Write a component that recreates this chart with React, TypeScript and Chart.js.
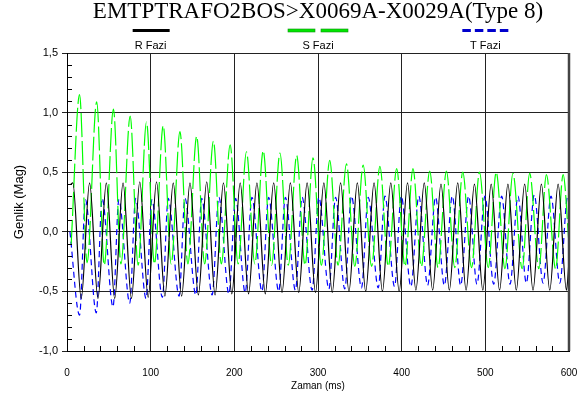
import { useEffect, useRef } from "react";
import { Chart, registerables } from "chart.js";
Chart.register(...registerables);

const TITLE = "EMTPTRAFO2BOS>X0069A-X0029A(Type 8)";
const SERIES_NAMES = ["R Fazi", "S Fazi", "T Fazi"];
const X_TITLE = "Zaman (ms)";
const Y_TITLE = "Genlik (Mag)";
const X_TICKS = [0, 100, 200, 300, 400, 500, 600];
const Y_TICKS = [-1.0, -0.5, 0.0, 0.5, 1.0, 1.5];

// R phase: start, then (peak, trough) per cycle, end
const rTimes = [4.5, 7, 17, 27, 37, 47, 57, 67, 77, 87, 97, 107, 117, 127, 137, 147, 157, 167, 177, 187, 197, 207, 217, 227, 237, 247, 257, 267, 277, 287, 297, 307, 317, 327, 337, 347, 357, 367, 377, 387, 397, 407, 417, 427, 437, 447, 457, 467, 477, 487, 497, 507, 517, 527, 537, 547, 557, 567, 577, 587, 597, 600];
const rValues = [0.40,
  0.41, -0.56, 0.41, -0.56, 0.41, -0.56, 0.41, -0.56, 0.42, -0.55,
  0.42, -0.54, 0.41, -0.54, 0.41, -0.53, 0.42, -0.53, 0.41, -0.52,
  0.41, -0.52, 0.41, -0.52, 0.41, -0.51, 0.41, -0.51, 0.41, -0.51,
  0.41, -0.51, 0.41, -0.50, 0.41, -0.50, 0.41, -0.50, 0.41, -0.50,
  0.41, -0.49, 0.41, -0.49, 0.40, -0.49, 0.41, -0.49, 0.40, -0.49,
  0.40, -0.49, 0.40, -0.49, 0.40, -0.49, 0.40, -0.49, 0.40, -0.49,
  -0.25];

// S phase: start, then (peak, trough) per cycle, end
const sTimes = [5, 15, 24, 35.5, 44.5, 55.5, 64.5, 75.5, 85, 95, 104.5, 115, 124.5, 135, 144.5, 155, 164.5, 175, 184.5, 195, 204.5, 214.5, 224.5, 234.5, 244.5, 254.5, 264.5, 274.5, 284.5, 294, 304, 314, 324, 334, 344, 354, 364, 374, 384, 394, 404, 413.5, 423.5, 433.5, 443.5, 453.5, 463.5, 473, 483.5, 493, 503.5, 513, 523.5, 533, 544, 553, 564, 573, 584, 593, 600];
const sValues = [-0.10,
  1.15, -0.26, 1.09, -0.28, 1.03, -0.27, 0.97, -0.28, 0.92, -0.27,
  0.89, -0.27, 0.84, -0.27, 0.80, -0.27, 0.76, -0.27, 0.73, -0.27,
  0.67, -0.27, 0.68, -0.28, 0.66, -0.28, 0.64, -0.28, 0.62, -0.28,
  0.60, -0.28, 0.57, -0.29, 0.56, -0.29, 0.55, -0.29, 0.53, -0.29,
  0.53, -0.29, 0.51, -0.30, 0.51, -0.30, 0.50, -0.30, 0.50, -0.30,
  0.50, -0.31, 0.49, -0.31, 0.49, -0.31, 0.48, -0.31, 0.48,
  -0.10];

// T phase: start, then (trough, peak) per cycle, end
const tTimes = [3.5, 15, 22, 35, 42, 55, 62, 75, 82, 94.5, 101.5, 114, 121, 134, 141, 154, 161, 173.5, 181.5, 193.5, 201.5, 213, 221, 233, 241, 253, 261, 273, 281, 293, 301, 313, 321, 332, 340, 352, 360, 372, 380, 391.5, 399.5, 411, 420.5, 431, 440.5, 451, 460.5, 470.5, 480, 490, 499.5, 510, 519.5, 529.5, 539, 549, 558.5, 569, 578.5, 589, 598.5, 600];
const tValues = [0.0,
  -0.70, 0.27, -0.68, 0.28, -0.63, 0.27, -0.60, 0.28, -0.56, 0.27,
  -0.55, 0.28, -0.54, 0.28, -0.53, 0.28, -0.53, 0.29, -0.52, 0.28,
  -0.51, 0.29, -0.50, 0.29, -0.50, 0.29, -0.49, 0.29, -0.49, 0.29,
  -0.48, 0.29, -0.48, 0.30, -0.47, 0.29, -0.47, 0.30, -0.46, 0.30,
  -0.46, 0.30, -0.45, 0.29, -0.45, 0.30, -0.45, 0.30, -0.44, 0.30,
  -0.44, 0.30, -0.44, 0.30, -0.43, 0.31, -0.43, 0.30, -0.43, 0.30,
  0.29];

const SANS = '"Liberation Sans", Arial, sans-serif';

function toPoints(ts: number[], vs: number[]) {
  return ts.map((t, i) => ({ x: t, y: vs[i] }));
}

export default function App() {
  const ref = useRef<HTMLCanvasElement>(null);
  useEffect(() => {
    document.body.style.margin = "0";
    const canvas = ref.current;
    if (!canvas) return;

    const decor = {
      id: "decor",
      afterDraw(chart: any) {
        const ctx = chart.ctx as CanvasRenderingContext2D;
        const { left, right, top, bottom } = chart.chartArea;
        const xs = chart.scales.x;
        const ys = chart.scales.y;
        ctx.save();
        ctx.strokeStyle = "#000";
        ctx.lineWidth = 1;
        // minor ticks (inside)
        ctx.beginPath();
        for (let v = 20; v < 600; v += 20) {
          if (v % 100 === 0) continue;
          const px = Math.round(xs.getPixelForValue(v)) + 0.5;
          ctx.moveTo(px, bottom);
          ctx.lineTo(px, bottom - 5);
        }
        for (let i = -9; i < 15; i++) {
          if (i % 5 === 0) continue;
          const py = Math.round(ys.getPixelForValue(i / 10)) + 0.5;
          ctx.moveTo(left, py);
          ctx.lineTo(left + 5, py);
        }
        ctx.stroke();
        // right border
        ctx.strokeStyle = "#444";
        ctx.lineWidth = 2.5;
        ctx.beginPath();
        ctx.moveTo(right, top);
        ctx.lineTo(right, bottom);
        ctx.stroke();

        // title
        const cx = (left + right) / 2;
        ctx.fillStyle = "#000";
        ctx.font = '23px "Liberation Serif", "Times New Roman", serif';
        ctx.textAlign = "center";
        ctx.textBaseline = "alphabetic";
        ctx.fillText(TITLE, cx, 18);

        // legend, items centred on the 100 / 300 / 500 ms positions
        const c1 = xs.getPixelForValue(100);
        const c2 = xs.getPixelForValue(300);
        const c3 = xs.getPixelForValue(500);
        const ly = 29;
        ctx.fillStyle = "#000";
        ctx.fillRect(c1 - 18, ly, 37, 3);
        ctx.fillStyle = "#00e600";
        ctx.strokeStyle = "#109010";
        ctx.lineWidth = 0.6;
        ctx.fillRect(c2 - 30, ly, 27, 3);
        ctx.strokeRect(c2 - 30, ly, 27, 3);
        ctx.fillRect(c2 + 3, ly, 27, 3);
        ctx.strokeRect(c2 + 3, ly, 27, 3);
        ctx.fillStyle = "#0000cc";
        [-23, -10.5, 2, 14.5].forEach((d) => ctx.fillRect(c3 + d, ly, 8.5, 3));

        ctx.fillStyle = "#000";
        ctx.font = `11px ${SANS}`;
        ctx.textBaseline = "middle";
        ctx.fillText(SERIES_NAMES[0], c1, 46);
        ctx.fillText(SERIES_NAMES[1], c2, 46);
        ctx.fillText(SERIES_NAMES[2], c3, 46);

        // axis titles
        ctx.font = `10px ${SANS}`;
        ctx.fillText(X_TITLE, cx, 386);
        ctx.save();
        ctx.translate(19, (top + bottom) / 2);
        ctx.rotate(-Math.PI / 2);
        ctx.font = `13px ${SANS}`;
        ctx.fillText(Y_TITLE, 0, 0);
        ctx.restore();
        ctx.restore();
      },
    };

    const chart = new Chart(canvas, {
      type: "line",
      data: {
        datasets: [
          {
            label: SERIES_NAMES[0],
            data: toPoints(rTimes, rValues),
            borderColor: "#000000",
            borderWidth: 1.2,
            cubicInterpolationMode: "monotone",
            pointRadius: 0,
            fill: false,
          },
          {
            label: SERIES_NAMES[1],
            data: toPoints(sTimes, sValues),
            borderColor: "#00ff00",
            borderWidth: 1.2,
            borderDash: [24, 4],
            cubicInterpolationMode: "monotone",
            pointRadius: 0,
            fill: false,
          },
          {
            label: SERIES_NAMES[2],
            data: toPoints(tTimes, tValues),
            borderColor: "#0000ff",
            borderWidth: 1.2,
            borderDash: [6, 4],
            cubicInterpolationMode: "monotone",
            pointRadius: 0,
            fill: false,
          },
        ],
      },
      options: {
        responsive: false,
        animation: false,
        devicePixelRatio: 1,
        layout: { padding: { left: 0, right: 13, top: 53, bottom: 0 } },
        plugins: {
          legend: { display: false },
          title: { display: false },
          tooltip: { enabled: false },
        },
        scales: {
          x: {
            type: "linear",
            min: 0,
            max: 600,
            afterBuildTicks: (s: any) => {
              s.ticks = X_TICKS.map((v) => ({ value: v }));
            },
            ticks: {
              font: { family: SANS, size: 10 },
              color: "#000",
              padding: 16,
              maxRotation: 0,
              autoSkip: false,
            },
            grid: { color: "#222", lineWidth: 1, drawTicks: false },
            border: { color: "#000", width: 1 },
            afterFit: (s: any) => {
              s.height = 44;
              s.paddingLeft = 0;
              s.paddingRight = 0;
            },
          },
          y: {
            type: "linear",
            min: -1,
            max: 1.5,
            afterBuildTicks: (s: any) => {
              s.ticks = Y_TICKS.map((v) => ({ value: v }));
            },
            ticks: {
              font: { family: SANS, size: 11 },
              color: "#000",
              padding: 4,
              autoSkip: false,
              callback: (v: any) => Number(v).toFixed(1).replace(".", ","),
            },
            grid: { color: "#222", lineWidth: 1, drawTicks: true, tickLength: 5 },
            border: { color: "#000", width: 1 },
            afterFit: (s: any) => {
              s.width = 67;
              s.paddingTop = 0;
              s.paddingBottom = 0;
            },
          },
        },
      },
      plugins: [decor],
    } as any);
    return () => chart.destroy();
  }, []);
  return <canvas ref={ref} width={582} height={395} style={{ display: "block" }} />;
}
